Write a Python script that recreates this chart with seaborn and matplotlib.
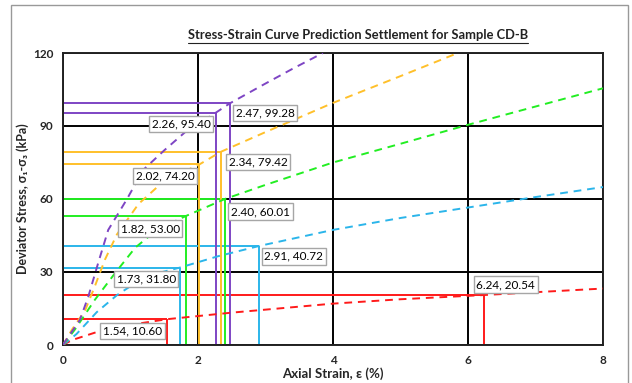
import matplotlib
matplotlib.use('Agg')
import matplotlib.pyplot as plt
import matplotlib.patches as mpatches
from matplotlib.lines import Line2D
import pandas as pd
import seaborn as sns

red_x = [0, 0.13, 0.52, 1.0, 1.54, 2.5, 4.0, 5.0, 6.24, 7.0, 8.0]
red_y = [0, 2.0, 5.5, 8.3, 10.6, 13.3, 17.0, 18.8, 20.54, 21.7, 23.2]
blue_x = [0, 0.2, 0.5, 0.8, 1.1, 1.4, 1.73, 2.3, 2.91, 4.0, 5.0, 6.0, 7.0, 8.0]
blue_y = [0, 4.5, 13.5, 20.5, 26.0, 29.5, 31.8, 36.5, 40.72, 47.3, 52.2, 56.5, 60.8, 64.9]
green_x = [0, 0.18, 0.47, 0.77, 1.07, 1.4, 1.82, 2.4, 3.0, 4.0, 5.0, 6.0, 7.0, 8.0]
green_y = [0, 6.5, 18.5, 29.5, 40.0, 47.5, 53.0, 60.01, 65.8, 75.0, 82.7, 90.5, 98.0, 105.5]
orange_x = [0, 0.13, 0.33, 0.47, 0.62, 0.8, 1.12, 1.5, 2.02, 2.34, 3.0, 3.46, 4.0, 5.0, 5.85]
orange_y = [0, 6.2, 14.4, 24.0, 35.0, 45.5, 58.0, 67.5, 74.2, 79.42, 87.5, 93.0, 99.5, 110.5, 120.0]
purple_x = [0, 0.03, 0.25, 0.375, 0.52, 0.67, 0.94, 1.19, 1.5, 1.81, 2.26, 2.47, 2.97, 3.4, 3.85]
purple_y = [0, 1.4, 10.3, 19.9, 33.6, 47.3, 59.6, 72.0, 80.0, 87.5, 95.4, 99.28, 107.0, 113.5, 120.0]

# Marked points (strain, stress) per series
red_pts = [(1.54, 10.60), (6.24, 20.54)]
blue_pts = [(1.73, 31.80), (2.91, 40.72)]
green_pts = [(1.82, 53.00), (2.40, 60.01)]
orange_pts = [(2.02, 74.20), (2.34, 79.42)]
purple_pts = [(2.26, 95.40), (2.47, 99.28)]

colors = {'red': '#FF1A1A', 'blue': '#2BB5EA', 'green': '#22EE22',
          'orange': '#FFC02A', 'purple': '#7E45C4'}
curves = {'red': (red_x, red_y), 'blue': (blue_x, blue_y), 'green': (green_x, green_y),
          'orange': (orange_x, orange_y), 'purple': (purple_x, purple_y)}
points = {'red': red_pts, 'blue': blue_pts, 'green': green_pts,
          'orange': orange_pts, 'purple': purple_pts}

# label box placement: (ha, va, dx px, dy px) of the box edge from the point
label_pos = {(1.54, 10.60): ('right', 'top', -2, -3), (6.24, 20.54): ('left', 'bottom', -11, 2),
             (1.73, 31.80): ('right', 'top', -1, -3), (2.91, 40.72): ('left', 'top', 2, -2),
             (1.82, 53.00): ('right', 'top', -3, -4), (2.40, 60.01): ('left', 'top', 3, -4),
             (2.02, 74.20): ('right', 'top', -2, -3), (2.34, 79.42): ('left', 'top', 5, -2),
             (2.26, 95.40): ('right', 'top', -2, -3), (2.47, 99.28): ('left', 'top', 3, -1)}

sns.set_style('white')
plt.rcParams['font.family'] = ['Lato', 'DejaVu Sans']

fig = plt.figure(figsize=(6.32, 3.83), dpi=100)
ax = fig.add_axes([63 / 632, 1 - 345 / 383, 540 / 632, 292 / 383])

ax.set_xlim(0, 8)
ax.set_ylim(0, 120)
ax.set_xticks([0, 2, 4, 6, 8])
ax.set_yticks([0, 30, 60, 90, 120])
ax.grid(True, color='black', linewidth=1.4, zorder=0)
ax.set_axisbelow(True)
for s in ax.spines.values():
    s.set_color('#222222')
    s.set_linewidth(1.4)
ax.tick_params(length=0, labelsize=8.5, pad=7)
for t in ax.get_xticklabels() + ax.get_yticklabels():
    t.set_fontweight('bold')

# guide lines to the marked points
for name, pts in points.items():
    for x, y in pts:
        ax.hlines(y, 0, x, color=colors[name], linewidth=1.4, zorder=2)
        ax.vlines(x, 0, y, color=colors[name], linewidth=1.4, zorder=2)

# dashed curves
for name, (xs, ys) in curves.items():
    df = pd.DataFrame({'strain': xs, 'stress': ys})
    sns.lineplot(data=df, x='strain', y='stress', color=colors[name], ax=ax,
                 sort=False, estimator=None, linewidth=1.4, zorder=3)
    ax.lines[-1].set_dashes((4, 3))

# labels
pad_px = 3.0
for name, pts in points.items():
    for x, y in pts:
        ha, va, dx, dy = label_pos[(x, y)]
        dx += pad_px if ha == 'left' else -pad_px
        dy += pad_px if va == 'bottom' else -pad_px
        ax.annotate(f'{x:.2f}, {y:.2f}', xy=(x, y), xytext=(dx * 0.72, dy * 0.72),
                    textcoords='offset points', ha=ha, va=va, fontsize=8.5,
                    color='black', zorder=5,
                    bbox=dict(boxstyle='square,pad=0.22', fc='white', ec='#A6A6A6', lw=1))

ax.set_xlabel('Axial Strain, ε (%)', fontsize=9.5, fontweight='bold', labelpad=1)
ax.set_ylabel('Deviator Stress, σ₁-σ₃ (kPa)', fontsize=9, fontweight='bold', labelpad=3)

title = fig.text(358 / 632, 1 - 35 / 383, 'Stress-Strain Curve Prediction Settlement for Sample CD-B',
                 ha='center', va='center', fontsize=9.3, fontweight='bold', color='#222222')

# outer chart border
fig.patches.append(mpatches.Rectangle((11 / 632, -0.02), 617 / 632, (383 - 5) / 383 + 0.02,
                                      transform=fig.transFigure, fill=False,
                                      edgecolor='#999999', linewidth=1))

# underline the title
fig.canvas.draw()
bb = title.get_window_extent().transformed(fig.transFigure.inverted())
fig.lines.append(Line2D([bb.x0, bb.x1], [bb.y0 - 0.004, bb.y0 - 0.004],
                        transform=fig.transFigure, color='#222222', linewidth=0.8))

fig.savefig('out.png', dpi=100)
